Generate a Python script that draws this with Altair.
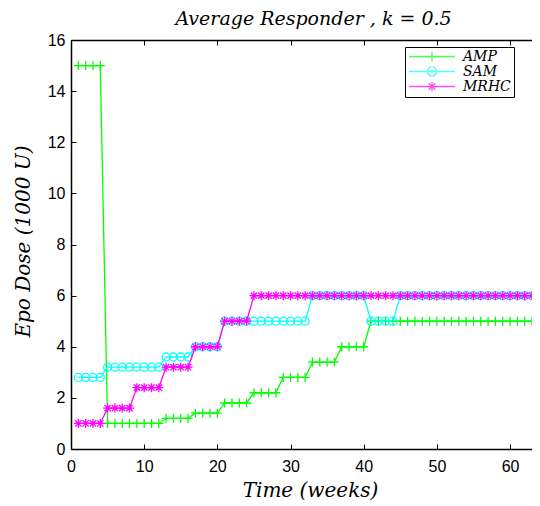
import altair as alt
import pandas as pd

# ---- data ----
weeks = list(range(1, 65))
amp = [15, 15, 15, 15,
       1, 1, 1, 1, 1, 1, 1, 1,
       1.2, 1.2, 1.2, 1.2,
       1.4, 1.4, 1.4, 1.4,
       1.8, 1.8, 1.8, 1.8,
       2.2, 2.2, 2.2, 2.2,
       2.8, 2.8, 2.8, 2.8,
       3.4, 3.4, 3.4, 3.4,
       4, 4, 4, 4,
       5, 5, 5, 5, 5, 5, 5, 5, 5, 5, 5, 5,
       5, 5, 5, 5, 5, 5, 5, 5, 5, 5, 5, 5]
sam = [2.8, 2.8, 2.8, 2.8,
       3.2, 3.2, 3.2, 3.2, 3.2, 3.2, 3.2, 3.2,
       3.6, 3.6, 3.6, 3.6,
       4, 4, 4, 4,
       5, 5, 5, 5, 5, 5, 5, 5, 5, 5, 5, 5,
       6, 6, 6, 6, 6, 6, 6, 6,
       5, 5, 5, 5,
       6, 6, 6, 6, 6, 6, 6, 6, 6, 6,
       6, 6, 6, 6, 6, 6, 6, 6, 6, 6]
mrhc = [1, 1, 1, 1,
        1.6, 1.6, 1.6, 1.6,
        2.4, 2.4, 2.4, 2.4,
        3.2, 3.2, 3.2, 3.2,
        4, 4, 4, 4,
        5, 5, 5, 5,
        6, 6, 6, 6, 6, 6, 6, 6, 6, 6,
        6, 6, 6, 6, 6, 6, 6, 6, 6, 6,
        6, 6, 6, 6, 6, 6, 6, 6, 6, 6,
        6, 6, 6, 6, 6, 6, 6, 6, 6, 6]
series_names = ["AMP", "SAM", "MRHC"]
series_values = [amp, sam, mrhc]
x_ticks = [0, 10, 20, 30, 40, 50, 60]
y_ticks = [0, 2, 4, 6, 8, 10, 12, 14, 16]
x_domain = [0, 63]
y_domain = [0, 16]
title_text = "Average Responder , k = 0.5"
x_title = "Time (weeks)"
y_title = "Epo Dose (1000 U)"

# ---- styles ----
series_colors = ["#00ff00", "#00ffff", "#ff00ff"]
PLUS = "M-1,0H1M0,-1V1"
ASTER = "M-1,0H1M0,-1V1M-0.7,-0.7L0.7,0.7M-0.7,0.7L0.7,-0.7"
marker_shapes = [PLUS, "circle", ASTER]
marker_sizes = [81, 64, 81]

LEG_PLUS = "M-1,0H1M0,-0.2V0.2"
LEG_CIRC = "M-1,0H1M0.2,0A0.2,0.2 0 1,1 -0.2,0A0.2,0.2 0 1,1 0.2,0"
LEG_ASTER = "M-1,0H1M0,-0.2V0.2M-0.14,-0.14L0.14,0.14M-0.14,0.14L0.14,-0.14"
legend_shapes = [LEG_PLUS, LEG_CIRC, LEG_ASTER]

color_scale = alt.Scale(domain=series_names, range=series_colors)
legend_shape_scale = alt.Scale(domain=series_names, range=legend_shapes)
xs = alt.Scale(domain=x_domain, nice=False, zero=False)
ys = alt.Scale(domain=y_domain, nice=False)

SERIF = "DejaVu Serif"
SANS = "Liberation Sans"

# bottom: domain + labels + title
bottom_axis = alt.Axis(
    orient="bottom", values=x_ticks, title=x_title, grid=False, ticks=False,
    labelFont=SANS, labelFontSize=16, labelColor="black", labelPadding=9,
    labelFlush=False, domainColor="black", domainWidth=1.5,
    titleFont=SERIF, titleFontStyle="italic", titleFontWeight="normal",
    titleFontSize=20, titleColor="black", titleX=239, titleY=47,
    titleBaseline="alphabetic", titleAlign="center",
)
# bottom: inward ticks
bottom_ticks = alt.Axis(
    orient="bottom", values=x_ticks, title=None, labels=False, grid=False,
    domain=False, tickColor="black", tickSize=5, tickWidth=1, offset=-5,
)
# top: domain only
top_axis = alt.Axis(
    orient="top", values=x_ticks, title=None, labels=False, grid=False,
    ticks=False, domainColor="black", domainWidth=1.5,
)
# top: inward ticks
top_ticks = alt.Axis(
    orient="top", values=x_ticks, title=None, labels=False, grid=False,
    domain=False, tickColor="black", tickSize=5, tickWidth=1, offset=-5,
)
# left: domain + labels + title
left_axis = alt.Axis(
    orient="left", values=y_ticks, title=y_title, grid=False, ticks=False,
    labelFont=SANS, labelFontSize=16, labelColor="black", labelPadding=6,
    labelFlush=False, domainColor="black", domainWidth=1.5,
    titleFont=SERIF, titleFontStyle="italic", titleFontWeight="normal",
    titleFontSize=20, titleColor="black", titleAngle=-90,
    titleX=-42, titleY=201, titleBaseline="alphabetic", titleAlign="center",
)
# left: inward ticks
left_ticks = alt.Axis(
    orient="left", values=y_ticks, title=None, labels=False, grid=False,
    domain=False, tickColor="black", tickSize=5, tickWidth=1, offset=-5,
)

x_axes = [top_axis, bottom_axis, top_ticks, bottom_ticks, None, None]
y_axes = [left_axis, left_ticks, None, None, None, None]

legend = alt.Legend(
    title=None, orient="none", legendX=334, legendY=7,
    strokeColor="black", fillColor="white", padding=3, cornerRadius=0,
    labelFont=SERIF, labelFontStyle="italic", labelFontSize=14,
    labelColor="black", labelOffset=7,
    symbolSize=2116, symbolStrokeWidth=1.3, clipHeight=13, rowPadding=0,
    symbolFillColor="transparent",
)

# legend-only layer (draws no marks; its symbols combine line and marker)
all_df = pd.DataFrame({"week": weeks * 3,
                       "dose": amp + sam + mrhc,
                       "series": [n for n in series_names for _ in weeks]})
legend_layer = alt.Chart(all_df).transform_filter("false").mark_point(
    filled=False, strokeWidth=1.3
).encode(
    x=alt.X("week:Q", scale=xs, axis=None),
    y=alt.Y("dose:Q", scale=ys, axis=None),
    color=alt.Color("series:N", scale=color_scale, legend=legend),
    shape=alt.Shape("series:N", scale=legend_shape_scale, legend=legend),
)

layers = [legend_layer]
k = 0
for i, (name, vals) in enumerate(zip(series_names, series_values)):
    df = pd.DataFrame({"week": weeks, "dose": vals, "series": name})
    line = alt.Chart(df).mark_line(strokeWidth=1.3).encode(
        x=alt.X("week:Q", scale=xs, axis=x_axes[k]),
        y=alt.Y("dose:Q", scale=ys, axis=y_axes[k]),
        color=alt.Color("series:N", scale=color_scale, legend=None),
    )
    k += 1
    pts = alt.Chart(df).mark_point(
        filled=False, strokeWidth=1.3, size=marker_sizes[i], opacity=1,
        shape=marker_shapes[i],
    ).encode(
        x=alt.X("week:Q", scale=xs, axis=x_axes[k]),
        y=alt.Y("dose:Q", scale=ys, axis=y_axes[k]),
        color=alt.Color("series:N", scale=color_scale, legend=None),
    )
    k += 1
    layers += [line, pts]

chart = alt.layer(*layers).resolve_axis(x="independent", y="independent").properties(
    width=461, height=409,
    padding={"left": 63, "top": 32, "right": 0, "bottom": 56},
    autosize=alt.AutoSizeParams(type="none"),
    title=alt.TitleParams(
        text=title_text, font=SERIF, fontSize=19, fontStyle="italic",
        fontWeight="normal", color="black", dx=12, dy=7, offset=10,
        anchor="middle",
    ),
).configure_view(stroke=None).configure(background="white")

chart.save("out.html", embed_options={"renderer": "svg", "actions": False})
